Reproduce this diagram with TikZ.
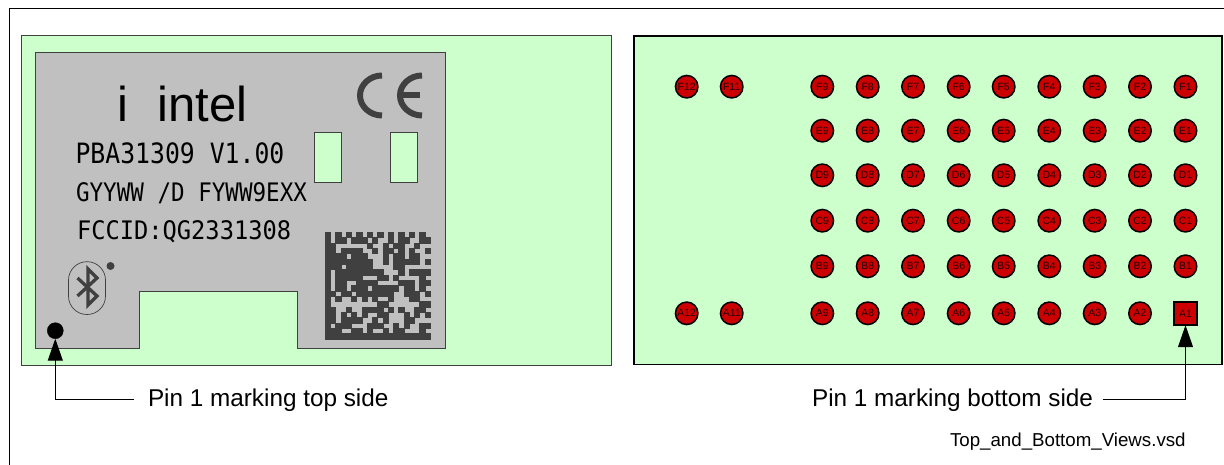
\documentclass[tikz,border=0pt]{standalone}
\usepackage{graphicx}
\usepackage{fontspec}
\setmainfont{Liberation Sans}
\newfontfamily\marking{DejaVu Sans Mono}
\usetikzlibrary{arrows.meta}
\definecolor{boardgreen}{HTML}{CCFFCC}
\definecolor{labelgray}{HTML}{C0C0C0}
\definecolor{padred}{HTML}{CC0000}
\definecolor{inkdark}{HTML}{404040}
\tikzset{
  x=1pt,y=-1pt,
  frameline/.style={draw=black,line width=1.2pt},
  boardtop/.style={draw=inkdark,line width=1pt,fill=boardgreen},
  boardbot/.style={draw=black,line width=1.5pt,fill=boardgreen},
  labelshape/.style={draw=inkdark,line width=1pt,fill=labelgray},
  slot/.style={draw=inkdark,line width=1pt,fill=boardgreen},
  padball/.style={circle,draw=black,line width=1.5pt,fill=padred,inner sep=0pt,outer sep=0pt,minimum size=22.5pt,font=\fontsize{10.5}{10.5}\selectfont,text=black!85!red},
  padsquare/.style={rectangle,draw=black,line width=1.5pt,fill=padred,inner sep=0pt,outer sep=0pt,minimum size=23pt,font=\fontsize{10.5}{10.5}\selectfont,text=black!85!red},
  markdot/.style={circle,fill=black,draw=black,inner sep=0pt,outer sep=0pt,minimum size=16pt},
  pinlabel/.style={inner sep=0pt,outer sep=0pt,text height=16pt,text depth=2pt,font=\fontsize{24.3}{26}\selectfont},
  leader/.style={draw=black,line width=1pt,-{Triangle[length=22pt,width=15pt]}},
  printed/.style={inner sep=0pt,outer sep=0pt,anchor=base west},
  cemark/.style={draw=inkdark,line width=6pt},
  dmark/.style={fill=inkdark,draw=inkdark,line width=.4pt}
}
\newcount\dmc
\def\dmscan#1{\ifx#1;\let\dmnext\relax\else
  \ifx#1X\fill[dmark] ({325+5.25*\the\dmc},{232.3+5.33*\dmrow}) rectangle ({325+5.25*(\the\dmc+1)},{232.3+5.33*(\dmrow+1)});\fi
  \global\advance\dmc by 1 \let\dmnext\dmscan\fi\dmnext}
\begin{document}
\begin{tikzpicture}
\useasboundingbox (0,0) rectangle (1224,465);
\fill[white] (0,0) rectangle (1224,465);
% outer frame
\draw[frameline] (9.5,465) -- (9.5,8.5) -- (1224,8.5);
% top view
\draw[boardtop] (21,36) rectangle (611,365);
\draw[labelshape] (35.6,52.7) -- (445,52.7) -- (445,348.7) -- (297,348.7) -- (297,291.3) -- (139.5,291.3) -- (139.5,348.7) -- (35.6,348.7) -- cycle;
\draw[slot] (314.3,132.7) rectangle (341.5,182.3);
\draw[slot] (390,132.7) rectangle (417,182.3);
\node[printed,font=\fontsize{49}{49}\selectfont] (brand) at (117,122) {i\hspace*{30pt}intel};
\node[printed,font=\marking\fontsize{28}{28}\selectfont] (pba) at (75.5,164) {\scalebox{.885}[1]{PBA31309 V1.00}};
\node[printed,font=\marking\fontsize{25.5}{25.5}\selectfont] (gyy) at (76,202) {\scalebox{.885}[1]{GYYWW /D FYWW9EXX}};
\node[printed,font=\marking\fontsize{25.5}{25.5}\selectfont] (fcc) at (77,240) {\scalebox{.93}[1]{FCCID:QG2331308}};
% CE mark
\draw[cemark] (382,75.5) .. controls (370,75.5) and (360,84.5) .. (360,95.5) .. controls (360,106.5) and (370,115.5) .. (382,115.5);
\draw[cemark] (422,75.5) .. controls (410,75.5) and (400,84.5) .. (400,95.5) .. controls (400,106.5) and (410,115.5) .. (422,115.5);
\draw[cemark] (400,95.5) -- (420,95.5);
% Bluetooth
\draw[draw=inkdark,line width=.7pt,rounded corners=18.4pt] (68.5,261.7) rectangle (105.5,314.5);
\draw[draw=inkdark,line width=3.3pt,line join=miter] (77.5,296) -- (97,278) -- (88,269) -- (88,305) -- (97,296) -- (77.5,278);
\fill[inkdark] (110.5,266) circle (4);
% data matrix
\foreach \dmrow/\dmbits in {
0/XoXoXoXoXoXoXoXoXoXo,
1/XoXXoXXXoXooXoXXooXX,
2/XXooooooXooXoXXooXoo,
3/XXoXXXXooXoXXoXoXooX,
4/XXXXoXXXoooXoXXoXXoo,
5/XXXXXXXXXooXoXXXXXoX,
6/XXXoXXXXXooooXXooooo,
7/XoXXXXXXXXXoooXoXXXX,
8/XoXXXXXoooXXoXooooXo,
9/XoXXooXXXXooooXXXoXX,
10/XoXXoXXXoXXXXXoXXoXo,
11/XXoXXoXXXXXXXooXXXoX,
12/XoXooXoXoXooXoooXXoo,
13/XoooooooooXXooooooXX,
14/XXooXooXXXXoXoXooXXo,
15/XXoXoXoXooXXoooXoXoX,
16/XXoXXXXooXoXoooXXooo,
17/XoXXXoooXXXooXoXooXX,
18/XXXooXXoXooXoXXoooXo,
19/XXXXXXXXXXXXXXXXXXXX}{
  \global\dmc=0 \expandafter\dmscan\dmbits;
}
\node[markdot] (topdot) at (55.3,330.7) {};
% bottom view
\draw[boardbot] (634,36) rectangle (1222,364.5);
\foreach \colnum/\colx in {1/1185.5,2/1140,3/1094.7,4/1049.3,5/1003.7,6/958.7,7/913,8/867.7,9/822.3}{
  \foreach \rowname/\rowy in {F/86.7,E/130.7,D/175.3,C/220.7,B/266.3,A/313.3}{
    \ifnum\colnum=1 \if\rowname A\else
      \node[padball] (pad\rowname\colnum) at (\colx,\rowy) {\rowname\colnum};
    \fi\else
      \node[padball] (pad\rowname\colnum) at (\colx,\rowy) {\rowname\colnum};
    \fi
  }
}
\foreach \colnum/\colx in {11/731.7,12/686.7}{
  \foreach \rowname/\rowy in {F/86.7,A/313.3}{
    \node[padball] (pad\rowname\colnum) at (\colx,\rowy) {\rowname\colnum};
  }
}
\node[padsquare] (padA1) at (1185.5,313.7) {A1};
% labels and leaders
\node[pinlabel,anchor=west] (toplabel) at (148,399) {Pin 1 marking top side};
\node[pinlabel,anchor=east] (botlabel) at (1093,399) {Pin 1 marking bottom side};
\draw[leader,shorten <=14pt] (toplabel.west) -| (topdot.south);
\draw[leader,shorten <=9.5pt] (botlabel.east) -| (padA1.south);
\node[printed,font=\fontsize{18.7}{18.7}\selectfont] (filename) at (950,446) {Top\_and\_Bottom\_Views.vsd};
\end{tikzpicture}
\end{document}
